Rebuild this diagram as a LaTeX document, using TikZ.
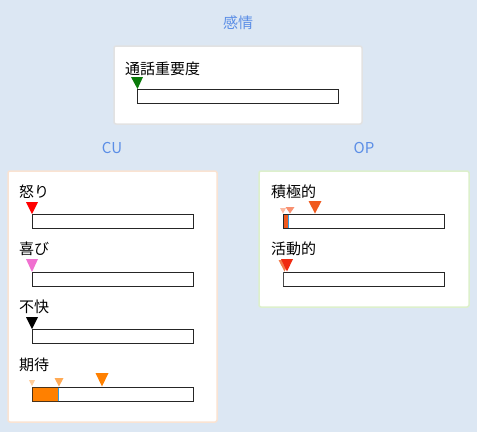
\documentclass[tikz,border=0pt]{standalone}
\usepackage{fontspec}
\setmainfont{Noto Sans CJK JP}
\definecolor{bg}{HTML}{DCE7F3}
\definecolor{ttl}{HTML}{5B8EE6}
\definecolor{pgray}{HTML}{E2E2E2}
\definecolor{ppeach}{HTML}{FAE3D2}
\definecolor{pgreen}{HTML}{DDF0CC}
\definecolor{tgreen}{HTML}{0A7A0A}
\definecolor{tred}{HTML}{FF0000}
\definecolor{tpink}{HTML}{F070D0}
\definecolor{torange}{HTML}{FF8000}
\definecolor{tlorange}{HTML}{FFAA55}
\definecolor{tpeach}{HTML}{FFCC99}
\definecolor{tored}{HTML}{F05A1E}
\definecolor{tsalmon}{HTML}{F89070}
\definecolor{tlsalmon}{HTML}{FCB8A0}
\definecolor{tactred}{HTML}{F02A10}
\definecolor{bline}{HTML}{3399DD}
\begin{document}
\begin{tikzpicture}[x=1pt,y=-1pt,
  panel/.style={draw=#1,line width=1.5pt,fill=white,rounded corners=2pt},
  title/.style={text=ttl,font=\fontsize{15}{15}\selectfont,inner sep=0pt},
  lbl/.style={anchor=west,font=\fontsize{15}{15}\selectfont,inner sep=0pt},
  bar/.style={draw=black!85,line width=1pt,fill=white},
  tri/.style={fill=#1,draw=none}]
\fill[bg] (0,0) rectangle (477,432);
\useasboundingbox (0,0) rectangle (477,432);
% titles
\node[title] (tk) at (238,23) {感情};
\node[title] (tcu) at (112,148) {CU};
\node[title] (top) at (364,148) {OP};
% panels
\draw[panel=pgray] (114,46) rectangle (362,124);
\draw[panel=ppeach] (8,171) rectangle (217,422);
\draw[panel=pgreen] (259,171) rectangle (469,307);
% top panel
\node[lbl] (l0) at (125,69) {通話重要度};
\draw[bar] (137.5,89) rectangle (338,103);
\fill[tgreen] (131,77) -- (143,77) -- (137.5,89) -- cycle;
% CU
\node[lbl] (l1) at (19,192) {怒り};
\draw[bar] (32,214) rectangle (193,228);
\fill[tred] (26,202) -- (38,202) -- (32,214) -- cycle;
\node[lbl] (l2) at (19,249) {喜び};
\draw[bar] (32,272) rectangle (193,286);
\fill[tpink] (26,259) -- (38,259) -- (32,272) -- cycle;
\node[lbl] (l3) at (19,307) {不快};
\draw[bar] (32,329) rectangle (193,343);
\fill[black] (26,317) -- (38,317) -- (32,329) -- cycle;
\node[lbl] (l4) at (19,365) {期待};
\draw[bar] (32,387) rectangle (193,401);
\fill[torange] (32.5,387.5) rectangle (58,400.5);
\draw[black!60!brown,line width=1pt] (32,387) rectangle (58,401);
\draw[bline,line width=1pt] (58,387.5) -- (58,400.5);
\fill[tpeach] (29,380) -- (35,380) -- (32,386) -- cycle;
\fill[tlorange] (54.5,378) -- (63.5,378) -- (59,386.5) -- cycle;
\fill[torange] (95.5,373) -- (108.5,373) -- (102,386.5) -- cycle;
% OP
\node[lbl] (l5) at (271,192) {積極的};
\draw[bar] (283,214) rectangle (444,228);
\fill[tored] (283.5,214.5) rectangle (287.5,227.5);
\draw[bline,line width=1pt] (288,214.5) -- (288,227.5);
\fill[tlsalmon] (280,208) -- (286,208) -- (283,213.5) -- cycle;
\fill[tsalmon] (285.5,207) -- (294.5,207) -- (290,213.5) -- cycle;
\fill[tored] (308.5,201) -- (321.5,201) -- (315,213.5) -- cycle;
\node[lbl] (l6) at (271,249) {活動的};
\draw[bar] (283,272) rectangle (444,286);
\draw[black!70,line width=1pt] (283,272) -- (283,286);
\fill[tored!80] (278.5,260) -- (290.5,260) -- (284.5,271.5) -- cycle;
\fill[tactred] (281,259) -- (293,259) -- (287,271.5) -- cycle;
\end{tikzpicture}
\end{document}
